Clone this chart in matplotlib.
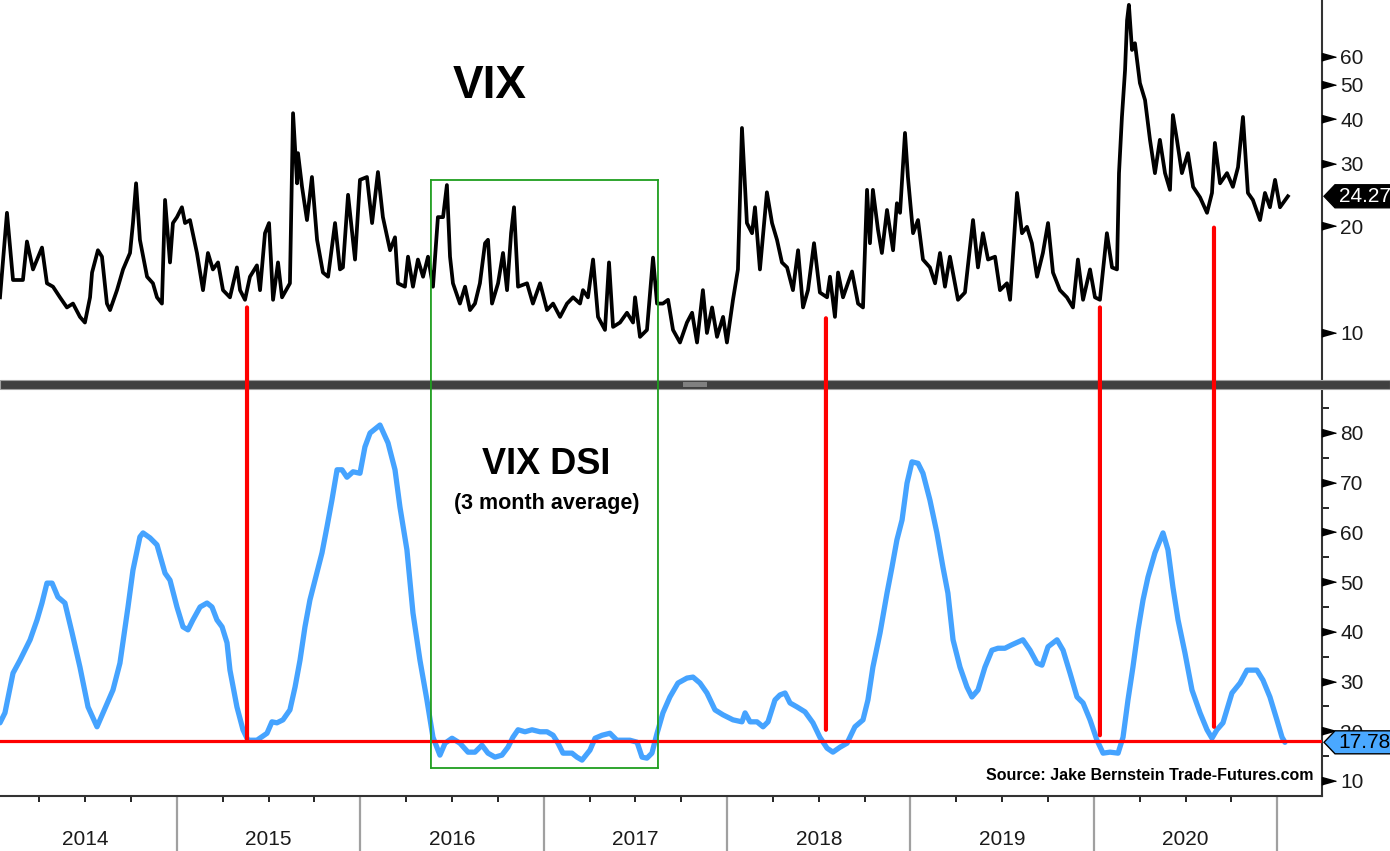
import matplotlib
matplotlib.use('Agg')
import matplotlib.pyplot as plt
import matplotlib.transforms as mtransforms
from matplotlib.patches import Polygon, Rectangle, ConnectionPatch
from matplotlib.ticker import FixedLocator, NullLocator, FixedFormatter, NullFormatter

plt.rcParams['font.family'] = ['Liberation Sans', 'DejaVu Sans']

# ---- data (decimal year, value) ----
vix_t = [2014.035, 2014.073, 2014.106, 2014.160, 2014.182, 2014.215, 2014.264, 2014.291,
         2014.324, 2014.362, 2014.400, 2014.433, 2014.471, 2014.498, 2014.526, 2014.537,
         2014.569, 2014.591, 2014.618, 2014.635, 2014.673, 2014.706, 2014.744, 2014.760,
         2014.777, 2014.798, 2014.837, 2014.869, 2014.891, 2014.918, 2014.935, 2014.962,
         2014.978, 2015.000, 2015.027, 2015.044, 2015.071, 2015.109, 2015.142, 2015.169,
         2015.196, 2015.224, 2015.251, 2015.289, 2015.327, 2015.344, 2015.371, 2015.398,
         2015.436, 2015.453, 2015.480, 2015.502, 2015.524, 2015.551, 2015.573, 2015.616,
         2015.633, 2015.655, 2015.660, 2015.682, 2015.709, 2015.736, 2015.764, 2015.796,
         2015.824, 2015.862, 2015.889, 2015.905, 2015.933, 2015.971, 2015.998, 2016.036,
         2016.064, 2016.096, 2016.123, 2016.162, 2016.189, 2016.205, 2016.243, 2016.260,
         2016.287, 2016.314, 2016.342, 2016.369, 2016.396, 2016.423, 2016.451, 2016.472,
         2016.489, 2016.505, 2016.543, 2016.571, 2016.598, 2016.625, 2016.652, 2016.680,
         2016.696, 2016.718, 2016.751, 2016.778, 2016.800, 2016.822, 2016.838, 2016.860,
         2016.909, 2016.941, 2016.980, 2017.018, 2017.051, 2017.089, 2017.127, 2017.160,
         2017.198, 2017.214, 2017.241, 2017.269, 2017.296, 2017.334, 2017.356, 2017.378,
         2017.416, 2017.454, 2017.487, 2017.498, 2017.525, 2017.563, 2017.596, 2017.618,
         2017.650, 2017.678, 2017.705, 2017.743, 2017.781, 2017.809, 2017.836, 2017.868,
         2017.890, 2017.918, 2017.945, 2017.978, 2017.999, 2018.032, 2018.059, 2018.081,
         2018.108, 2018.136, 2018.152, 2018.179, 2018.217, 2018.245, 2018.272, 2018.299,
         2018.327, 2018.359, 2018.387, 2018.414, 2018.441, 2018.474, 2018.506, 2018.545,
         2018.561, 2018.588, 2018.605, 2018.632, 2018.681, 2018.714, 2018.741, 2018.763,
         2018.779, 2018.795, 2018.823, 2018.844, 2018.872, 2018.905, 2018.926, 2018.943,
         2018.970, 2018.986, 2019.014, 2019.041, 2019.068, 2019.106, 2019.134, 2019.161,
         2019.188, 2019.215, 2019.259, 2019.297, 2019.341, 2019.368, 2019.395, 2019.423,
         2019.461, 2019.488, 2019.526, 2019.543, 2019.581, 2019.608, 2019.635, 2019.662,
         2019.690, 2019.722, 2019.750, 2019.777, 2019.815, 2019.853, 2019.886, 2019.913,
         2019.941, 2019.979, 2020.006, 2020.033, 2020.071, 2020.099, 2020.126, 2020.137,
         2020.153, 2020.170, 2020.181, 2020.191, 2020.208, 2020.224, 2020.251, 2020.279,
         2020.306, 2020.333, 2020.360, 2020.388, 2020.415, 2020.431, 2020.453, 2020.480,
         2020.513, 2020.541, 2020.579, 2020.617, 2020.644, 2020.660, 2020.688, 2020.726,
         2020.758, 2020.786, 2020.813, 2020.840, 2020.867, 2020.906, 2020.933, 2020.960,
         2020.988, 2021.015, 2021.058]
vix_v = [12.6, 21.8, 14.1, 14.1, 18.1, 15.1, 17.4, 13.8,
         13.5, 12.6, 11.8, 12.1, 11.1, 10.7, 12.6, 14.8,
         17.1, 16.4, 12.1, 11.6, 13.2, 15.1, 16.8, 20.4,
         26.4, 18.3, 14.4, 13.8, 12.6, 12.1, 23.7, 15.8,
         20.4, 21.2, 22.6, 20.4, 20.8, 16.8, 13.2, 16.8,
         15.1, 15.8, 13.2, 12.6, 15.3, 13.2, 12.4, 14.4,
         15.5, 13.2, 19.1, 20.4, 12.4, 15.8, 12.6, 13.8,
         41.6, 26.4, 32.1, 25.8, 20.8, 27.5, 18.3, 14.8,
         14.4, 20.4, 15.1, 15.3, 24.5, 16.1, 27.0, 27.5,
         20.4, 28.4, 21.2, 17.1, 18.6, 13.8, 13.5, 16.4,
         13.5, 16.1, 14.4, 16.4, 13.5, 21.2, 21.2, 26.1,
         16.4, 13.8, 12.1, 13.5, 11.6, 12.1, 13.8, 17.9,
         18.3, 12.1, 13.8, 16.8, 13.2, 19.1, 22.6, 13.5,
         13.8, 12.1, 13.8, 11.6, 12.1, 11.1, 12.1, 12.6,
         12.1, 13.2, 12.6, 16.1, 11.1, 10.2, 15.8, 10.4,
         10.7, 11.4, 10.7, 12.6, 9.75, 10.2, 16.3, 12.1,
         12.1, 12.4, 10.2, 9.4, 10.7, 11.4, 9.4, 13.2,
         10.0, 11.8, 9.75, 11.1, 9.4, 12.4, 15.1, 37.8,
         20.4, 19.1, 22.6, 15.1, 24.9, 20.4, 18.3, 15.8,
         15.3, 13.2, 17.1, 11.8, 13.2, 17.9, 13.0, 12.6,
         14.4, 11.1, 14.8, 12.6, 14.9, 12.1, 11.8, 25.3,
         17.9, 25.3, 19.5, 16.8, 22.2, 17.1, 23.2, 21.8,
         36.6, 27.5, 19.1, 20.8, 16.1, 15.3, 13.8, 16.8,
         13.5, 16.4, 12.4, 13.0, 20.8, 15.3, 19.1, 16.1,
         16.4, 13.2, 13.8, 12.4, 24.8, 19.1, 19.9, 17.9,
         14.4, 16.8, 20.4, 14.8, 13.2, 12.6, 11.8, 16.1,
         12.4, 15.1, 12.6, 12.4, 19.1, 15.3, 15.1, 28.2,
         40.6, 55.0, 76.0, 84.0, 62.7, 65.5, 50.6, 45.3,
         35.0, 28.2, 35.0, 28.2, 25.3, 41.1, 35.0, 28.2,
         32.1, 25.8, 24.1, 21.8, 24.8, 34.3, 26.4, 28.2,
         25.8, 29.3, 40.6, 24.8, 23.7, 20.8, 24.8, 22.6,
         27.0, 22.6, 24.27]

dsi_t = [2014.035, 2014.062, 2014.106, 2014.144, 2014.199, 2014.237, 2014.264, 2014.291,
         2014.319, 2014.351, 2014.389, 2014.428, 2014.471, 2014.515, 2014.564, 2014.597,
         2014.651, 2014.689, 2014.733, 2014.760, 2014.798, 2014.815, 2014.853, 2014.891,
         2014.935, 2014.962, 2015.000, 2015.033, 2015.060, 2015.087, 2015.126, 2015.164,
         2015.191, 2015.218, 2015.246, 2015.273, 2015.289, 2015.327, 2015.360, 2015.387,
         2015.436, 2015.491, 2015.518, 2015.545, 2015.578, 2015.616, 2015.644, 2015.671,
         2015.698, 2015.725, 2015.753, 2015.791, 2015.818, 2015.845, 2015.873, 2015.900,
         2015.927, 2015.960, 2015.998, 2016.025, 2016.053, 2016.107, 2016.151, 2016.189,
         2016.216, 2016.254, 2016.287, 2016.325, 2016.363, 2016.396, 2016.434, 2016.462,
         2016.500, 2016.543, 2016.587, 2016.625, 2016.663, 2016.696, 2016.734, 2016.772,
         2016.805, 2016.832, 2016.860, 2016.898, 2016.936, 2016.980, 2017.018, 2017.051,
         2017.078, 2017.105, 2017.154, 2017.181, 2017.209, 2017.252, 2017.280, 2017.318,
         2017.361, 2017.399, 2017.432, 2017.470, 2017.509, 2017.536, 2017.563, 2017.590,
         2017.618, 2017.650, 2017.688, 2017.732, 2017.781, 2017.814, 2017.852, 2017.890,
         2017.934, 2017.978, 2018.032, 2018.081, 2018.098, 2018.125, 2018.163, 2018.196,
         2018.223, 2018.261, 2018.288, 2018.316, 2018.343, 2018.381, 2018.425, 2018.468,
         2018.506, 2018.545, 2018.577, 2018.616, 2018.654, 2018.697, 2018.741, 2018.768,
         2018.795, 2018.834, 2018.872, 2018.899, 2018.926, 2018.954, 2018.981, 2019.008,
         2019.041, 2019.068, 2019.106, 2019.144, 2019.177, 2019.204, 2019.232, 2019.270,
         2019.308, 2019.335, 2019.368, 2019.406, 2019.444, 2019.477, 2019.515, 2019.553,
         2019.613, 2019.652, 2019.690, 2019.717, 2019.750, 2019.799, 2019.832, 2019.870,
         2019.908, 2019.941, 2019.979, 2020.017, 2020.050, 2020.088, 2020.132, 2020.159,
         2020.186, 2020.213, 2020.241, 2020.268, 2020.295, 2020.333, 2020.377, 2020.404,
         2020.431, 2020.459, 2020.497, 2020.535, 2020.579, 2020.617, 2020.644, 2020.671,
         2020.704, 2020.753, 2020.797, 2020.835, 2020.889, 2020.922, 2020.960, 2020.998,
         2021.026, 2021.042]
dsi_v = [21.7, 23.7, 31.7, 34.3, 38.4, 42.4, 45.8, 49.8,
         49.8, 47.0, 45.8, 39.8, 32.9, 24.9, 20.9, 23.7,
         28.3, 33.7, 45.0, 52.4, 59.1, 59.9, 58.9, 57.5,
         51.8, 50.4, 45.0, 41.0, 40.4, 42.4, 45.0, 45.8,
         45.0, 42.4, 41.0, 37.8, 32.3, 24.9, 20.3, 18.2,
         18.2, 19.6, 21.9, 21.7, 22.3, 24.3, 28.9, 34.3,
         41.0, 46.4, 50.4, 55.9, 61.1, 66.5, 72.6, 72.6,
         71.1, 72.2, 71.9, 77.2, 80.0, 81.6, 78.0, 72.6,
         65.1, 56.5, 43.8, 34.3, 26.3, 18.8, 15.2, 17.6,
         18.6, 17.6, 15.8, 15.8, 17.2, 15.6, 14.8, 15.2,
         16.8, 18.8, 20.3, 19.9, 20.3, 19.9, 19.9, 19.2,
         17.6, 15.6, 15.6, 14.8, 14.2, 16.2, 18.6, 19.2,
         19.6, 18.2, 18.2, 18.2, 17.8, 14.8, 14.6, 15.6,
         19.6, 23.7, 26.9, 29.7, 30.7, 30.9, 29.7, 27.7,
         24.3, 23.3, 22.3, 21.9, 23.7, 21.9, 21.9, 20.9,
         21.9, 26.3, 27.3, 27.7, 25.7, 24.9, 23.9, 21.7,
         18.8, 16.6, 15.8, 16.8, 17.6, 20.9, 22.3, 26.3,
         32.9, 39.8, 47.8, 53.0, 58.5, 62.5, 69.9, 74.2,
         73.9, 71.9, 66.5, 59.9, 53.0, 47.8, 38.4, 32.9,
         28.9, 26.9, 28.3, 32.9, 36.3, 36.7, 36.7, 37.4,
         38.4, 36.3, 33.7, 33.3, 37.0, 38.4, 36.3, 31.7,
         26.9, 25.7, 22.3, 18.2, 15.6, 15.8, 15.6, 18.8,
         26.3, 32.9, 40.4, 46.4, 51.0, 55.9, 59.9, 56.5,
         49.0, 42.4, 35.7, 28.3, 23.7, 20.3, 18.6, 20.3,
         21.7, 27.7, 29.7, 32.3, 32.3, 30.3, 26.9, 22.3,
         18.8, 17.78]

# turning points marked in red: date, VIX level at the top, DSI level at the bottom
turn_t = [2015.382, 2018.539, 2020.033, 2020.655]
turn_vix = [11.8, 11.0, 11.8, 19.8]
turn_dsi = [18.2, 20.3, 19.2, 20.9]

dsi_floor = 18
box_t = [2016.385, 2017.623]
box_vix_top = 27.0
box_dsi_bottom = 12.6

vix_last = 24.27
dsi_last = 17.78
years = [2014, 2015, 2016, 2017, 2018, 2019, 2020]
vix_ticks = [10, 20, 30, 40, 50, 60]
dsi_ticks = [10, 20, 30, 40, 50, 60, 70, 80]
dsi_minor = [15, 25, 35, 45, 55, 65, 75, 85]

W, H = 1390, 851
fig = plt.figure(figsize=(W / 100, H / 100), dpi=100)
ax1 = fig.add_axes([0, 1 - 380 / H, 1322 / W, 380 / H])
ax2 = fig.add_axes([0, 1 - 796 / H, 1322 / W, 407 / H])

xlim = (2014.035, 2021.244)
txt_col = '#1a1a1a'

# ---- top: VIX ----
ax1.plot(vix_t, vix_v, color='black', lw=2.7, solid_joinstyle='round', zorder=3)
ax1.set_yscale('log')
ax1.set_ylim(7.37, 86.7)
ax1.set_xlim(*xlim)
ax1.set_xticks([])
ax1.yaxis.tick_right()
ax1.yaxis.set_major_locator(FixedLocator(vix_ticks))
ax1.yaxis.set_major_formatter(FixedFormatter([str(v) for v in vix_ticks]))
ax1.yaxis.set_minor_locator(NullLocator())
ax1.yaxis.set_minor_formatter(NullFormatter())
ax1.tick_params(axis='y', which='major', length=0, pad=13, labelsize=15, labelcolor=txt_col)
for s in ['left', 'top', 'bottom']:
    ax1.spines[s].set_visible(False)
ax1.spines['right'].set_color('#333333')
ax1.spines['right'].set_linewidth(1.5)

# ---- bottom: VIX DSI ----
ax2.plot(dsi_t, dsi_v, color='#45a3ff', lw=3.8, solid_joinstyle='round', solid_capstyle='round', zorder=3)
ax2.axhline(dsi_floor, color='#ff0000', lw=2.3, zorder=4)
ax2.set_ylim(6.98, 88.85)
ax2.set_xlim(*xlim)
ax2.yaxis.tick_right()
ax2.yaxis.set_major_locator(FixedLocator(dsi_ticks))
ax2.yaxis.set_minor_locator(FixedLocator(dsi_minor))
ax2.tick_params(axis='y', which='major', length=0, pad=13, labelsize=15, labelcolor=txt_col)
ax2.tick_params(axis='y', which='minor', length=5, width=1.2, color='black')
for s in ['left', 'top']:
    ax2.spines[s].set_visible(False)
for s in ['right', 'bottom']:
    ax2.spines[s].set_color('#333333')
    ax2.spines[s].set_linewidth(1.5)

# x axis: year separators and quarter ticks
ax2.xaxis.set_major_locator(FixedLocator([y + 1 for y in years]))
ax2.xaxis.set_major_formatter(NullFormatter())
ax2.xaxis.set_minor_locator(FixedLocator([y + q for y in years for q in (0.25, 0.5, 0.75)]))
ax2.tick_params(axis='x', which='major', length=40, width=1.6, color='#a0a0a0')
ax2.tick_params(axis='x', which='minor', length=4.5, width=1.2, color='black')
for y in years:
    ax2.text(y + 0.5, -0.108, str(y), transform=ax2.get_xaxis_transform(),
             ha='center', va='center', fontsize=15, color=txt_col)

# triangle tick marks on the right axes
tri = [(0, -0.28), (0, 0.28), (1, 0)]
for ax, ticks in ((ax1, vix_ticks), (ax2, dsi_ticks)):
    ax.plot([1.0] * len(ticks), ticks, ls='none', marker=tri, ms=20, color='black',
            transform=ax.get_yaxis_transform(), clip_on=False, zorder=5)

# separator bar between the panels
fig.add_artist(Rectangle((0, 1 - 389 / H), 1, 9 / H, transform=fig.transFigure,
                         facecolor='#404040', edgecolor='#a0a0a0', lw=0.8, zorder=1))
fig.add_artist(Rectangle((683 / W, 1 - 386.5 / H), 24 / W, 4 / H, transform=fig.transFigure,
                         facecolor='#808080', edgecolor='none', zorder=1.1))

# red turning-point lines across both panels
for t, a, b in zip(turn_t, turn_vix, turn_dsi):
    con = ConnectionPatch(xyA=(t, a), coordsA='data', axesA=ax1,
                          xyB=(t, b), coordsB='data', axesB=ax2,
                          color='#ff0000', lw=3.0, zorder=3)
    fig.add_artist(con)

# green box around the quiet period
green = '#1f9e1f'
ax1.plot(box_t, [box_vix_top] * 2, color=green, lw=1.3, zorder=2)
ax2.plot(box_t, [box_dsi_bottom] * 2, color=green, lw=1.3, zorder=2)
for t in box_t:
    con = ConnectionPatch(xyA=(t, box_vix_top), coordsA='data', axesA=ax1,
                          xyB=(t, box_dsi_bottom), coordsB='data', axesB=ax2,
                          color=green, lw=1.3, zorder=2)
    fig.add_artist(con)

# last-value tags
tag = [(0.02, 0), (0.13, 0.115), (0.9, 0.115), (0.9, -0.115), (0.13, -0.115)]
for ax, val, fc, tc in ((ax1, vix_last, 'black', 'white'), (ax2, dsi_last, '#4aa8ff', 'black')):
    anchor = mtransforms.ScaledTranslation(1.0, val, ax.get_yaxis_transform())
    fig.add_artist(Polygon(tag, closed=True, transform=fig.dpi_scale_trans + anchor,
                           facecolor=fc, edgecolor='black', lw=1.0, zorder=6))
    fig.text(0.165, 0, f'{val:.2f}', fontsize=15, color=tc, ha='left', va='center',
             transform=fig.dpi_scale_trans + anchor, zorder=7)

# annotations
fig.text(490 / W, 1 - 86 / H, 'VIX', fontsize=33, fontweight='bold', ha='center', va='center')
fig.text(546 / W, 1 - 465 / H, 'VIX DSI', fontsize=26, fontweight='bold', ha='center', va='center')
fig.text(547 / W, 1 - 503 / H, '(3 month average)', fontsize=15.5, fontweight='bold', ha='center', va='center')
fig.text(1313 / W, 1 - 775 / H, 'Source: Jake Bernstein Trade-Futures.com', fontsize=11.5,
         fontweight='bold', ha='right', va='center')

fig.savefig('out.png', dpi=100)
